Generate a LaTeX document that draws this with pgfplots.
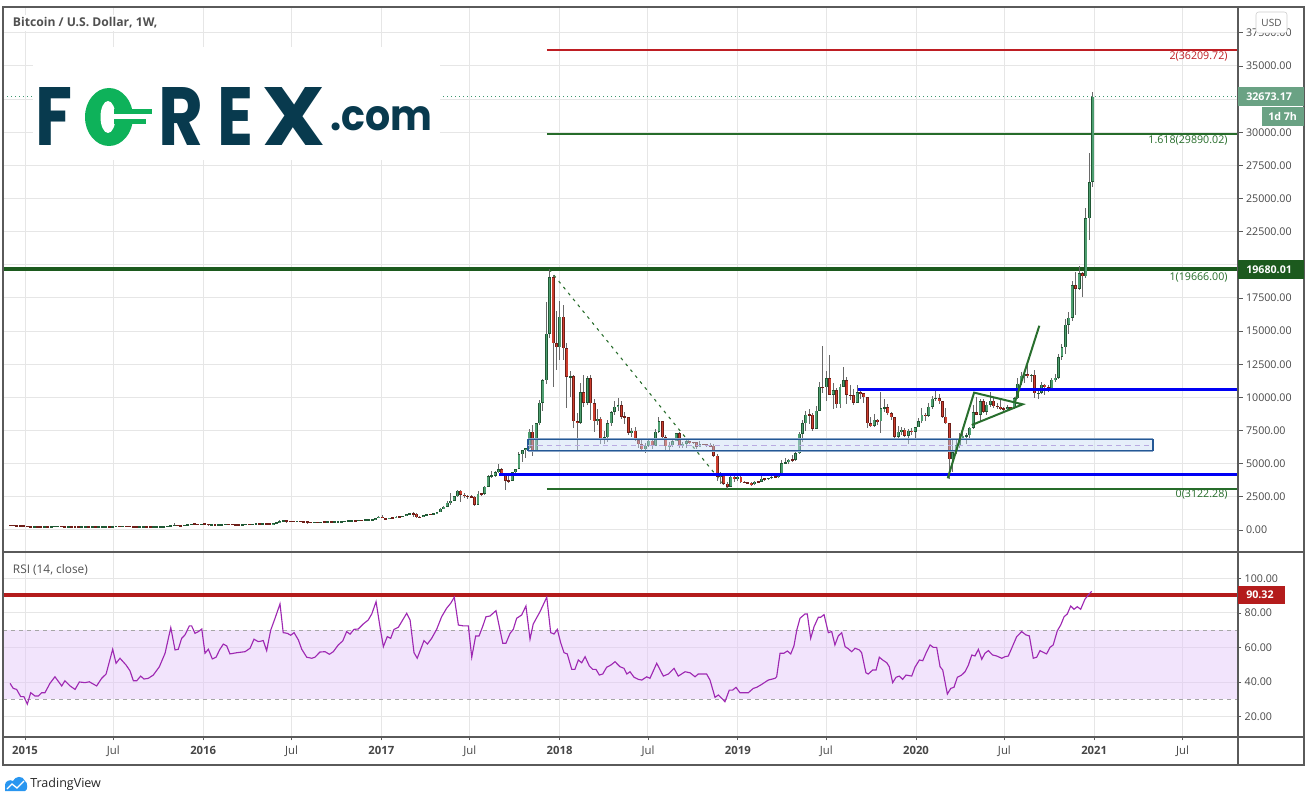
\documentclass[border=0pt]{standalone}
\usepackage{pgfplots}
\pgfplotsset{compat=1.18}
\usepackage{pgfplotstable}
\usepackage{graphicx}
\usepackage{fontspec}
\setmainfont{Open Sans}
\newfontfamily\logofont{Poppins}

\definecolor{gridc}{RGB}{230,230,230}
\definecolor{framec}{RGB}{90,90,90}
\definecolor{tickc}{RGB}{70,70,70}
\definecolor{wickc}{RGB}{105,105,105}
\definecolor{upb}{RGB}{32,88,52}
\definecolor{upf}{RGB}{78,158,112}
\definecolor{dnb}{RGB}{110,30,24}
\definecolor{dnf}{RGB}{205,62,46}
\definecolor{fibred}{RGB}{190,30,35}
\definecolor{fibgreen}{RGB}{38,108,42}
\definecolor{levgreen}{RGB}{28,90,30}
\definecolor{lineblue}{RGB}{0,0,245}
\definecolor{zonefill}{RGB}{200,220,243}
\definecolor{zoneedge}{RGB}{36,88,150}
\definecolor{zonemid}{RGB}{185,170,225}
\definecolor{patgreen}{RGB}{40,110,45}
\definecolor{lastc}{RGB}{106,162,132}
\definecolor{dotc}{RGB}{60,150,110}
\definecolor{rsic}{RGB}{158,40,178}
\definecolor{rsiband}{RGB}{226,196,248}
\definecolor{rsired}{RGB}{180,28,28}
\definecolor{logoc}{RGB}{8,58,78}
\definecolor{logog}{RGB}{14,178,90}
\definecolor{tvblue}{RGB}{41,150,240}
\definecolor{titlec}{RGB}{80,80,80}

\newcommand\lblfont{\fontsize{8}{9.6}\selectfont}

% weekly candles from the week of 1 Dec 2014: high, low, close
\pgfplotstableread{
h l c
382 345 350
358 340 347
350 310 330
337 315 320
320 270 275
300 270 274
280 166 210
300 200 253
310 215 227
245 212 223
260 216 257
259 230 245
260 233 260
300 258 275
299 270 287
296 260 262
270 235 248
262 240 254
265 235 236
237 215 223
237 216 218
240 218 240
245 230 241
245 232 236
245 232 240
241 223 225
232 221 229
237 226 232
253 230 250
252 240 250
275 250 270
300 262 290
296 270 275
294 272 290
298 280 281
285 260 265
272 255 257
260 198 228
235 198 230
240 226 240
244 227 231
236 225 231
238 226 233
245 233 240
248 236 247
270 247 270
292 263 290
335 283 325
502 325 385
390 305 333
336 310 325
382 315 378
415 360 390
465 390 464
466 432 441
465 420 426
450 420 448
462 425 448
455 365 385
412 375 394
396 370 378
390 365 384
410 375 409
440 400 437
440 412 433
440 400 413
420 400 413
420 405 410
420 405 417
425 412 420
425 415 420
432 420 430
462 428 460
468 440 448
462 440 460
462 450 456
458 435 442
532 437 528
590 520 580
720 572 680
780 670 740
780 560 666
700 610 660
680 615 650
680 640 665
680 650 655
660 600 624
625 480 590
600 560 570
590 565 582
590 570 575
612 565 608
630 600 607
612 600 608
610 590 602
615 595 612
622 605 617
645 612 642
655 630 650
700 650 698
745 690 705
720 690 705
755 700 735
750 725 730
775 725 765
780 755 778
795 770 790
935 790 900
1020 890 1000
1160 880 900
905 750 820
940 810 920
925 880 915
1040 915 1015
1060 940 1000
1060 990 1050
1200 1050 1190
1290 1180 1230
1330 980 1230
1260 940 970
1060 900 970
1130 955 1120
1210 1080 1180
1200 1160 1180
1270 1175 1260
1380 1250 1350
1640 1345 1600
1820 1560 1770
2200 1720 2050
2760 1920 2200
2590 2170 2530
3000 2480 2950
2980 2120 2660
2800 2450 2560
2630 2320 2500
2650 2450 2500
2550 1840 1920
2930 1900 2740
2800 2550 2730
3300 2650 3250
4180 3250 4070
4480 3900 4100
4450 3960 4350
4980 4330 4600
4700 4050 4200
4250 2980 3700
4100 3580 3700
4380 3690 4370
4600 4140 4600
5850 4600 5700
6000 5100 6000
6200 5450 6150
7600 6100 7400
7900 5550 5950
8100 5900 8050
9800 7950 9600
11400 9000 11300
17200 11000 14800
19666 14500 19050
19200 10800 14100
16500 12100 13800
17250 12800 16100
17000 12800 13700
14100 9200 11550
12000 10000 11600
11700 7700 8200
8800 6000 8100
11100 8000 10400
11700 9300 9600
11600 9400 11450
11700 8300 9550
9900 7400 8200
9100 7900 8400
8500 6500 6900
7500 6450 7000
8300 6600 8050
9000 7850 8900
9750 8700 9300
9950 9000 9400
9700 8400 8550
8900 8000 8500
8550 7150 7350
7700 7050 7500
7750 6700 6780
6900 6150 6450
6800 5900 6100
6550 5800 6350
6800 6250 6750
6800 6100 6350
7600 6300 7400
8500 7350 8200
8250 6900 7000
7150 5900 6300
6600 5880 6400
6800 6250 6700
7300 6700 7300
7400 6200 6300
6600 6150 6500
6800 6200 6700
6700 6450 6600
6650 6500 6600
6650 6100 6280
6750 6350 6450
6500 6400 6450
6500 6250 6350
6550 6300 6350
6480 5500 5600
5700 3700 4000
4400 3500 4200
4300 3400 3500
3600 3122 3250
4200 3250 4000
4250 3600 3900
4100 3700 4000
4100 3550 3600
3700 3550 3600
3650 3500 3550
3600 3350 3450
3700 3400 3650
3700 3550 3650
4200 3650 3850
3950 3700 3850
3950 3750 3920
4050 3850 4000
4100 3950 4000
4150 3950 4100
5300 4100 5050
5450 4950 5100
5350 5000 5300
5650 5100 5300
5900 5200 5800
7400 5700 7250
8300 6600 8050
8950 7500 8700
9100 8000 8700
8800 7450 7650
9350 7600 8990
11200 8950 10800
13880 10300 10750
12000 9700 11450
13200 10300 10200
11100 9100 10550
10700 9200 9500
11000 9200 10800
12300 10800 11300
11550 9500 10200
10950 9800 10150
10650 9400 9600
10900 9600 10400
10450 9900 10300
10350 9600 10000
10050 7700 8050
8500 7750 7850
8750 7800 8300
8400 7900 8200
10400 7300 9200
9900 8900 9250
9500 8700 8800
8900 8300 8500
8500 6800 7050
7850 6850 7400
7800 7150 7550
7700 7050 7100
7600 6450 7500
7700 7150 7400
7600 6850 7750
8450 7750 8200
9200 8050 8700
8800 8250 8600
9600 8500 9300
10100 9150 9900
10500 9700 9950
10250 9500 9700
9750 8450 8550
9200 8000 8050
8000 3850 5350
6900 4400 5850
6950 5700 6400
7300 6150 6900
7450 6800 7100
7300 6500 7150
7750 6800 7700
9450 7650 8900
10050 8750 8700
9900 8150 9700
9850 8800 8900
9650 8650 9450
10400 9250 9750
10000 9200 9350
9550 9150 9300
9800 9050 9150
9300 8950 9100
9450 9050 9250
9300 9050 9200
10000 9150 9950
11450 9900 11050
11900 10950 11650
12100 11100 11750
12450 11500 11650
11800 11150 11700
12050 9950 10300
10550 9900 10350
11150 10250 10950
11000 10150 10750
10950 10400 10650
11500 10550 11350
11750 11200 11500
13250 11400 13050
14000 12850 13800
15950 13250 15500
16450 14800 16000
18800 15800 18450
19450 16200 18200
19900 18100 19380
19450 17600 19150
24300 19000 23500
28400 21850 26250
33060 25900 32673
}\btc
\pgfplotstablecreatecol[create col/assign/.code={%
  \getprevrow{c}{\pv}%
  \ifx\pv\empty\getthisrow{c}{\pv}\fi
  \pgfkeyslet{/pgfplots/table/create col/next content}\pv}]{o}{\btc}

% RSI (14, close) read off the lower pane
\pgfplotstableread{
t v
2014.916 39.3
2014.934 36.4
2014.953 35.8
2014.976 31.6
2014.994 31.6
2015.013 27.3
2015.032 33.9
2015.056 32.0
2015.075 32.0
2015.094 33.9
2015.112 33.9
2015.140 39.3
2015.168 43.1
2015.206 37.8
2015.224 40.8
2015.253 37.8
2015.281 35.8
2015.305 40.1
2015.337 39.7
2015.361 40.2
2015.402 37.8
2015.430 42.2
2015.455 44.7
2015.492 59.0
2015.511 50.9
2015.533 53.8
2015.567 49.9
2015.589 46.6
2015.608 40.8
2015.627 40.8
2015.649 43.5
2015.668 41.8
2015.692 42.2
2015.720 44.1
2015.754 48.9
2015.786 56.7
2015.818 71.5
2015.842 58.6
2015.860 59.0
2015.879 65.3
2015.898 67.3
2015.922 72.5
2015.935 72.5
2015.954 68.2
2015.973 69.2
2015.992 70.7
2016.010 56.7
2016.029 59.0
2016.051 53.4
2016.072 54.4
2016.094 59.0
2016.113 62.0
2016.132 60.9
2016.150 56.3
2016.188 57.0
2016.235 57.6
2016.263 59.6
2016.285 64.8
2016.309 63.4
2016.337 64.0
2016.356 58.2
2016.379 70.1
2016.403 76.9
2016.431 85.2
2016.449 68.6
2016.472 68.2
2016.491 67.1
2016.510 68.6
2016.534 64.4
2016.553 59.0
2016.581 54.4
2016.609 53.8
2016.627 54.4
2016.655 57.4
2016.684 57.6
2016.708 56.1
2016.730 57.6
2016.758 61.5
2016.783 63.8
2016.805 69.2
2016.824 67.7
2016.846 70.5
2016.870 70.7
2016.898 73.6
2016.926 75.9
2016.946 79.4
2016.970 86.5
2016.992 72.0
2017.011 60.5
2017.033 66.3
2017.052 65.3
2017.071 70.5
2017.095 71.7
2017.142 79.8
2017.161 75.9
2017.183 57.0
2017.201 53.8
2017.239 64.0
2017.258 62.0
2017.282 65.3
2017.310 70.5
2017.338 77.8
2017.366 82.7
2017.389 85.6
2017.409 89.1
2017.432 73.0
2017.460 72.5
2017.488 72.5
2017.507 54.4
2017.529 66.7
2017.548 66.7
2017.568 72.1
2017.587 77.8
2017.609 78.2
2017.643 81.3
2017.681 62.5
2017.699 62.5
2017.722 68.2
2017.740 70.5
2017.759 76.9
2017.787 78.8
2017.811 84.0
2017.834 64.8
2017.852 73.6
2017.890 80.7
2017.928 89.1
2017.950 68.6
2017.969 67.8
2017.987 70.5
2018.006 62.8
2018.025 57.0
2018.043 56.3
2018.068 47.4
2018.086 47.4
2018.105 52.8
2018.124 51.2
2018.143 54.7
2018.167 49.3
2018.186 47.4
2018.204 47.4
2018.223 44.1
2018.242 44.7
2018.264 48.6
2018.288 49.9
2018.311 51.8
2018.339 48.9
2018.361 48.0
2018.377 44.7
2018.395 46.0
2018.418 42.8
2018.442 41.6
2018.461 41.2
2018.489 43.1
2018.507 42.2
2018.545 50.9
2018.582 43.5
2018.610 44.7
2018.642 48.0
2018.666 43.5
2018.704 46.0
2018.732 45.4
2018.760 43.1
2018.778 44.7
2018.825 44.7
2018.844 41.2
2018.872 31.2
2018.891 32.6
2018.928 28.7
2018.952 35.4
2018.971 35.4
2018.990 37.0
2019.012 33.9
2019.059 33.9
2019.087 36.4
2019.106 37.0
2019.134 38.7
2019.171 41.2
2019.209 42.2
2019.218 43.1
2019.237 56.7
2019.259 56.7
2019.278 58.0
2019.297 56.3
2019.315 60.9
2019.331 70.1
2019.349 76.9
2019.377 79.4
2019.390 79.4
2019.409 65.3
2019.428 72.1
2019.452 77.5
2019.465 77.5
2019.484 79.0
2019.508 68.6
2019.527 69.2
2019.545 61.5
2019.564 66.7
2019.583 68.6
2019.602 60.5
2019.620 59.3
2019.639 57.6
2019.658 59.6
2019.682 58.6
2019.695 57.0
2019.719 45.4
2019.732 44.7
2019.757 47.0
2019.776 47.0
2019.794 54.4
2019.813 52.8
2019.836 51.2
2019.850 48.9
2019.869 39.7
2019.888 42.8
2019.906 43.5
2019.925 41.6
2019.944 44.1
2019.976 43.5
2019.994 48.6
2020.019 52.8
2020.038 52.4
2020.056 56.7
2020.079 61.5
2020.097 60.1
2020.116 60.1
2020.135 48.9
2020.150 47.0
2020.176 33.1
2020.195 36.4
2020.213 37.0
2020.232 42.8
2020.256 44.1
2020.275 46.0
2020.294 49.9
2020.313 55.7
2020.331 55.1
2020.350 59.0
2020.369 53.2
2020.387 56.7
2020.406 58.2
2020.430 55.7
2020.453 55.1
2020.481 53.8
2020.499 54.7
2020.518 55.1
2020.537 59.6
2020.565 66.3
2020.593 69.2
2020.617 67.3
2020.636 66.7
2020.658 53.8
2020.677 54.4
2020.696 58.2
2020.718 57.0
2020.733 56.3
2020.752 60.1
2020.770 61.5
2020.793 69.7
2020.812 73.0
2020.831 77.8
2020.849 79.4
2020.868 84.0
2020.887 82.1
2020.905 83.6
2020.924 82.1
2020.948 87.9
2020.967 90.4
2020.986 92.5
}\rsi

\pgfplotsset{
  tvaxis/.style={
    scale only axis, width=926.25pt,
    xmin=2014.8765, xmax=2021.807,
    axis line style={draw=none},
    grid=major, major grid style={draw=gridc, line width=0.75pt},
    xtick={2015,2015.496,2016,2016.496,2017,2017.496,2018,2018.496,2019,2019.496,2020,2020.496,2021,2021.496},
    ytick pos=right, tick align=outside, major tick length=3.5pt,
    tick style={draw=framec, line width=0.6pt},
    scaled y ticks=false,
    /pgf/number format/assume math mode=true,
    yticklabel style={font=\lblfont, text=tickc, anchor=west, xshift=-1pt,
      /pgf/number format/.cd, fixed, fixed zerofill, precision=2, 1000 sep={}},
  },
  candle/.style={draw=none, mark=none, forget plot},
}

\begin{document}
\begin{tikzpicture}
\path[use as bounding box] (0,0) rectangle (983.25pt,-601.5pt);

% ---------- price pane ----------
\begin{axis}[tvaxis, at={(2.25pt,-5.25pt)}, anchor=north west, height=408.75pt,
  ymin=-1660, ymax=39450,
  ytick={0,2500,5000,7500,10000,12500,15000,17500,22500,25000,27500,30000,35000,37500},
  extra y ticks={20000,32500}, extra y tick labels={},
  extra y tick style={grid=major, tick style={draw=framec}},
  xticklabel=\empty, xtick style={draw=none}]

% fib levels
\addplot[fibred, line width=1.4pt] coordinates {(2017.929,36209.72) (2021.807,36209.72)};
\addplot[fibgreen, line width=1.5pt] coordinates {(2017.929,29890.02) (2021.807,29890.02)};
\addplot[fibgreen, line width=1.5pt] coordinates {(2017.929,3122.28) (2021.807,3122.28)};
\addplot[levgreen, line width=3pt] coordinates {(2014.8765,19680.01) (2021.807,19680.01)};
\addplot[fibgreen, line width=0.8pt, dash pattern=on 2.2pt off 3.5pt] coordinates {(2017.941,19666) (2018.939,3122.28)};
\addplot[dotc, line width=0.75pt, dash pattern=on 0.75pt off 2.25pt] coordinates {(2014.8765,32673.17) (2021.807,32673.17)};

% candles: wicks, then up and down bodies
\addplot[candle, error bars/.cd, y dir=both, y explicit, error mark=none,
  error bar style={line width=0.75pt, draw=wickc}]
  table[x expr={2014.9165+0.019165*\coordindex}, y expr={(\thisrow{h}+\thisrow{l})/2},
        y error expr={(\thisrow{h}-\thisrow{l})/2}] {\btc};
\addplot[candle, restrict expr to domain={\thisrow{c}-\thisrow{o}}{0:100000},
  error bars/.cd, y dir=both, y explicit, error mark=none,
  error bar style={line width=2.2pt, draw=upb}]
  table[x expr={2014.9165+0.019165*\coordindex}, y expr={(\thisrow{c}+\thisrow{o})/2},
        y error expr={max(abs(\thisrow{c}-\thisrow{o})/2,45)}] {\btc};
\addplot[candle, restrict expr to domain={\thisrow{c}-\thisrow{o}}{0:100000},
  error bars/.cd, y dir=both, y explicit, error mark=none,
  error bar style={line width=1.15pt, draw=upf}]
  table[x expr={2014.9165+0.019165*\coordindex}, y expr={(\thisrow{c}+\thisrow{o})/2},
        y error expr={max(abs(\thisrow{c}-\thisrow{o})/2-40,0)}] {\btc};
\addplot[candle, restrict expr to domain={\thisrow{c}-\thisrow{o}}{-100000:0},
  error bars/.cd, y dir=both, y explicit, error mark=none,
  error bar style={line width=2.2pt, draw=dnb}]
  table[x expr={2014.9165+0.019165*\coordindex}, y expr={(\thisrow{c}+\thisrow{o})/2},
        y error expr={max(abs(\thisrow{c}-\thisrow{o})/2,45)}] {\btc};
\addplot[candle, restrict expr to domain={\thisrow{c}-\thisrow{o}}{-100000:0},
  error bars/.cd, y dir=both, y explicit, error mark=none,
  error bar style={line width=1.15pt, draw=dnf}]
  table[x expr={2014.9165+0.019165*\coordindex}, y expr={(\thisrow{c}+\thisrow{o})/2},
        y error expr={max(abs(\thisrow{c}-\thisrow{o})/2-40,0)}] {\btc};

% support/resistance zone
\addplot[draw=zoneedge, line width=1.2pt, fill=zonefill, fill opacity=0.45] coordinates
  {(2017.823,6000) (2021.330,6000) (2021.330,6820) (2017.823,6820)} -- cycle;
\addplot[zoneedge!55, line width=0.7pt] coordinates {(2017.823,6900) (2021.330,6900)};
\addplot[zoneedge!55, line width=0.7pt] coordinates {(2017.823,5920) (2021.330,5920)};
\addplot[zonemid, line width=0.7pt, dash pattern=on 4pt off 3pt] coordinates {(2017.823,6410) (2021.330,6410)};

% horizontal blue levels
\addplot[lineblue, line width=2pt] coordinates {(2019.675,10613) (2021.807,10613)};
\addplot[lineblue, line width=2pt] coordinates {(2017.660,4202) (2021.807,4202)};

% flag pattern
\addplot[patgreen, line width=1.5pt] coordinates {(2020.178,3900) (2020.326,10360) (2020.599,9480) (2020.313,7920)};
\addplot[patgreen, line width=1.5pt] coordinates {(2020.556,9680) (2020.692,15410)};

\node[anchor=north east, text=fibred, font=\lblfont, inner sep=1pt] at (axis cs:2021.757,36209.72) {2(36209.72)};
\node[anchor=north east, text=fibgreen, font=\lblfont, inner sep=1pt] at (axis cs:2021.757,29890.02) {1.618(29890.02)};
\node[anchor=north east, text=fibgreen, font=\lblfont, inner sep=1pt, yshift=-1.5pt] at (axis cs:2021.757,19666) {1(19666.00)};
\node[anchor=north east, text=fibgreen, font=\lblfont, inner sep=1pt] at (axis cs:2021.757,3122.28) {0(3122.28)};
\end{axis}

% ---------- RSI pane ----------
\begin{axis}[tvaxis, at={(2.25pt,-414pt)}, anchor=north west, height=138.75pt,
  ymin=8.3, ymax=115.2, ytick={20,40,60,80,100},
  xtick pos=bottom, major tick length=2.5pt,
  xticklabels={\bfseries 2015,Jul,\bfseries 2016,Jul,\bfseries 2017,Jul,\bfseries 2018,Jul,\bfseries 2019,Jul,\bfseries 2020,Jul,\bfseries 2021,Jul},
  xticklabel style={font=\fontsize{8.5}{10}\selectfont, text=tickc, yshift=-1pt}]
\addplot[draw=none, fill=rsiband, fill opacity=0.45] coordinates
  {(2014.8765,30) (2021.807,30) (2021.807,70) (2014.8765,70)} -- cycle;
\addplot[gray!70, line width=0.7pt, dash pattern=on 3pt off 3pt] coordinates {(2014.8765,70) (2021.807,70)};
\addplot[gray!70, line width=0.7pt, dash pattern=on 3pt off 3pt] coordinates {(2014.8765,30) (2021.807,30)};
\addplot[rsired, line width=3pt] coordinates {(2014.8765,90.32) (2021.807,90.32)};
\addplot[rsic, line width=0.85pt] table[x=t, y=v] {\rsi};
\end{axis}

% ---------- frame, labels, logos (pixel grid of the reference) ----------
\begin{scope}[x=0.75pt, y=-0.75pt]
\draw[framec, line width=0.9pt] (3,7) rectangle (1304,765);
\draw[framec, line width=0.9pt] (3,552) -- (1304,552);
\draw[framec, line width=0.9pt] (3,737) -- (1304,737);
\draw[framec, line width=0.9pt] (1238,7) -- (1238,765);

\node[anchor=west, fill=white, inner sep=2pt, text=titlec, font=\bfseries\fontsize{9.1}{11}\selectfont] at (10,23) {Bitcoin / U.S. Dollar, 1W,};
\node[anchor=west, inner sep=2pt, text=titlec, font=\fontsize{8.9}{11}\selectfont] at (10,570) {RSI (14, close)};

% FOREX.com logo
\fill[white] (33,47) rectangle (440,160);
\node[anchor=south west, inner sep=0, text=logoc] at (35,146) {\resizebox{27.75pt}{43.5pt}{\logofont\bfseries F}};
\fill[logog] (109,117) ellipse [x radius=24, y radius=29];
\fill[white] (108,117) ellipse [x radius=7.5, y radius=16];
\fill[white] (114,114) rectangle (134,119);
\fill[logog] (114,109) rectangle (152,114);
\fill[logog] (114,119) rectangle (146,124);
\node[anchor=south west, inner sep=0, text=logoc] at (158,146) {\resizebox{33.75pt}{43.5pt}{\logofont\bfseries R}};
\node[anchor=south west, inner sep=0, text=logoc] at (217,146) {\resizebox{27pt}{43.5pt}{\logofont\bfseries E}};
\node[anchor=south west, inner sep=0, text=logoc] at (262,146) {\resizebox{47.25pt}{43.5pt}{\logofont\bfseries X}};
\node[anchor=south west, inner sep=0, text=logoc] at (330,131) {\resizebox{76.5pt}{18pt}{\logofont\bfseries .com}};

% price scale tags
\fill[lastc] (1238,87) rectangle (1304,106);
\node[anchor=west, inner sep=0, text=white, font=\bfseries\lblfont] at (1246,96.5) {32673.17};
\fill[lastc] (1262,107) rectangle (1304,126);
\node[anchor=west, inner sep=0, text=white, font=\bfseries\lblfont] at (1268,116.5) {1d 7h};
\fill[levgreen] (1238,260) rectangle (1304,279);
\node[anchor=west, inner sep=0, text=white, font=\bfseries\lblfont] at (1246,269.5) {19680.01};
\fill[rsired] (1238,586) rectangle (1285,604);
\node[anchor=west, inner sep=0, text=white, font=\bfseries\lblfont] at (1246,595) {90.32};
\draw[gray!40, fill=white, rounded corners=2pt] (1256,12) rectangle (1287,33);
\node[text=titlec, inner sep=0, font=\fontsize{7.5}{9}\selectfont] at (1271.5,22.5) {USD};

% TradingView mark
\fill[tvblue] (5,791) -- (5,785) .. controls (5,781) and (10,779) .. (13,781)
  .. controls (15,776) and (23,775) .. (25,781) .. controls (28,782) and (28,791) .. (25,791) -- cycle;
\draw[white, line width=1pt] (7,789) -- (12,784) -- (17,788) -- (24,781);
\node[anchor=west, inner sep=0, text=black!85, font=\fontsize{9.4}{11}\selectfont] at (30,784) {TradingView};
\end{scope}
\end{tikzpicture}
\end{document}
